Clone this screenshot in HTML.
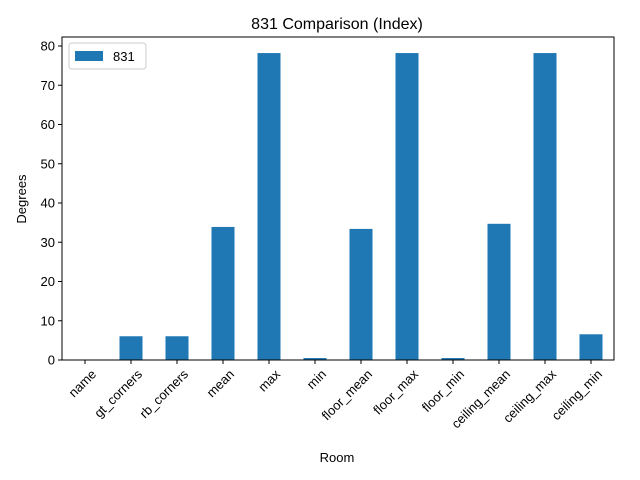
<!DOCTYPE html>
<html><head><meta charset="utf-8"><style>body{margin:0;background:#fff}svg{display:block;font-family:"Liberation Sans","DejaVu Sans",sans-serif}</style></head>
<body>
<svg id="chart" width="640" height="480">
<rect x="0" y="0" width="640" height="480" fill="#fff"/>
<text x="337" y="29" font-size="16" text-anchor="middle">831 Comparison (Index)</text>
<g id="bars"></g>
<g id="yticks"></g>
<g id="xticks"></g>
<rect x="62" y="37" width="552" height="323" fill="none" stroke="#000" stroke-width="1"/>
<text x="26" y="199" font-size="13" text-anchor="middle" transform="rotate(-90 26 199)">Degrees</text>
<text x="337" y="462" font-size="13" text-anchor="middle">Room</text>
<g>
<rect x="69" y="43" width="77" height="26" rx="3" fill="#fff" stroke="#ccc"/>
<rect x="75" y="51" width="28" height="10" fill="#1f77b4"/>
<text x="113" y="61" font-size="13">831</text>
</g>
</svg>
<script>
const categories=["name","gt_corners","rb_corners","mean","max","min","floor_mean","floor_max","floor_min","ceiling_mean","ceiling_max","ceiling_min"];
const values=[0,6.05,6.05,33.9,78.2,0.5,33.4,78.2,0.5,34.7,78.2,6.55];
const yTicks=[0,10,20,30,40,50,60,70,80];
const NS="http://www.w3.org/2000/svg";
const x0=62,plotW=552,y0=360,yTop=46,yMaxV=80;
const band=plotW/categories.length;
function xc(i){return x0+band*(i+0.5);}
function ys(v){return y0-(v/yMaxV)*(y0-yTop);}
function mk(t,a){const e=document.createElementNS(NS,t);for(const k in a)e.setAttribute(k,a[k]);return e;}
const bars=document.getElementById('bars'),yt=document.getElementById('yticks'),xt=document.getElementById('xticks');
values.forEach((v,i)=>{
 const r=mk('rect',{x:xc(i)-band/4,y:ys(v),width:band/2,height:y0-ys(v),fill:'#1f77b4'});
 
 
 bars.appendChild(r);
});
yTicks.forEach(t=>{
 const y=ys(t);
 const l=mk('line',{x1:58,x2:62,y1:y,y2:y,stroke:'#000'});
 
 
 yt.appendChild(l);
 const tx=mk('text',{x:55,y:y+4.5,'font-size':13,'text-anchor':'end'});
 tx.textContent=t;
 
 
 yt.appendChild(tx);
});
categories.forEach((c,i)=>{
 const x=xc(i);
 const l=mk('line',{x1:x,x2:x,y1:360,y2:364,stroke:'#000'});
 
 
 xt.appendChild(l);
 const ax=x+12,ay=375;
 const tx=mk('text',{x:ax,y:ay,'font-size':13,'text-anchor':'end',transform:`rotate(-45 ${ax} ${ay})`});
 tx.textContent=c;
 
 
 xt.appendChild(tx);
});
</script>
</body></html>
